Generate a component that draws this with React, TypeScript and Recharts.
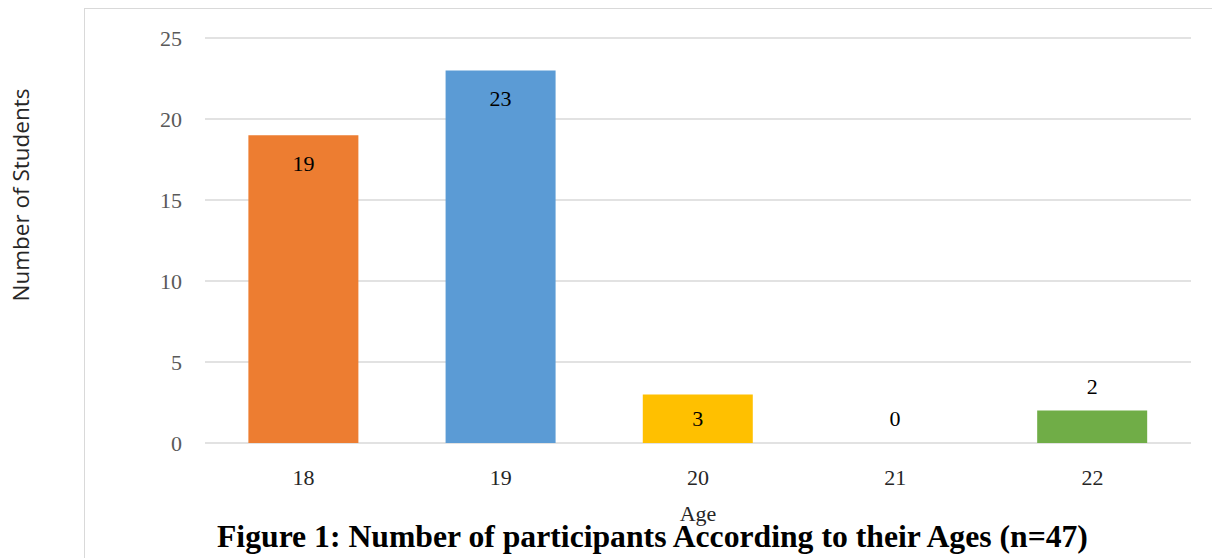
import { BarChart, Bar, Cell, XAxis, YAxis, CartesianGrid, LabelList } from "recharts";

const AGES = ["18", "19", "20", "21", "22"];
const STUDENTS = [19, 23, 3, 0, 2];
const BAR_COLORS = ["#ED7D31", "#5B9BD5", "#FFC000", "transparent", "#70AD47"];
const Y_TICKS = [0, 5, 10, 15, 20, 25];

const data = AGES.map((age, i) => ({ age, students: STUDENTS[i] }));

const SERIF = "'Liberation Serif', 'Times New Roman', serif";

// Excel-style placement: inside near the top for tall bars, above for short ones
function ValueLabel(props: any) {
  const { x, y, width, height, value } = props;
  const cx = x + width / 2;
  const top = Math.min(y, y + height);
  const h = Math.abs(height);
  const cy = h >= 40 ? top + Math.min(28, h / 2) : top - 24;
  return (
    <text x={cx} y={cy} dy="0.35em" textAnchor="middle" fill="#000" fontSize={22} fontFamily={SERIF}>
      {value}
    </text>
  );
}

export default function App() {
  return (
    <div style={{ position: "absolute", left: 0, top: 0, width: 1212, height: 558, overflow: "hidden", background: "#fff" }}>
      <div
        style={{
          position: "absolute",
          left: 84,
          top: 8,
          width: 1200,
          height: 600,
          border: "1.5px solid #d9d9d9",
        }}
      />
      <div
        style={{
          position: "absolute",
          left: 20,
          top: 195,
          transform: "translate(-50%, -50%) rotate(-90deg)",
          whiteSpace: "nowrap",
          fontFamily: "'Open Sans', sans-serif",
          fontSize: 22.5,
          color: "#262626",
        }}
      >
        Number of Students
      </div>
      <div style={{ position: "absolute", left: 0, top: 0 }}>
        <BarChart
          width={1212}
          height={558}
          data={data}
          margin={{ top: 38, right: 21, left: 0, bottom: 0 }}
          barCategoryGap="22%"
        >
          <CartesianGrid vertical={false} stroke="#d9d9d9" strokeWidth={1.5} />
          <XAxis
            dataKey="age"
            height={115}
            axisLine={false}
            tickLine={false}
            tickSize={0}
            tickMargin={26}
            tick={{ fontSize: 22, fontFamily: SERIF, fill: "#262626" }}
            label={{
              value: "Age",
              position: "insideBottom",
              offset: 37,
              fontSize: 22,
              fontFamily: SERIF,
              fill: "#262626",
            }}
          />
          <YAxis
            width={205}
            domain={[0, 25]}
            ticks={Y_TICKS}
            axisLine={false}
            tickLine={false}
            tickSize={0}
            tickMargin={23}
            tick={{ fontSize: 22, fontFamily: SERIF, fill: "#595959" }}
          />
          <Bar dataKey="students" minPointSize={1} isAnimationActive={false}>
            {data.map((d, i) => (
              <Cell key={d.age} fill={BAR_COLORS[i]} />
            ))}
            <LabelList dataKey="students" content={ValueLabel} />
          </Bar>
        </BarChart>
      </div>
      <div
        style={{
          position: "absolute",
          left: 217,
          top: 519,
          whiteSpace: "nowrap",
          fontFamily: SERIF,
          fontWeight: "bold",
          fontSize: 31.7,
          color: "#000",
        }}
      >
        Figure 1: Number of participants According to their Ages (n=47)
      </div>
    </div>
  );
}
